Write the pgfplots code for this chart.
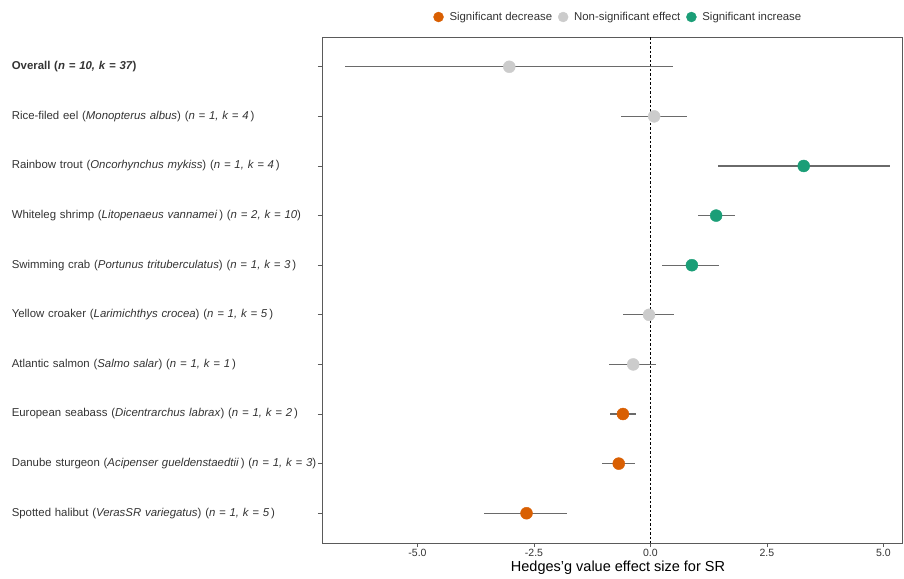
\documentclass[border=0pt]{standalone}
\usepackage{pgfplots}
\pgfplotsset{compat=1.18}
\usepackage{pgfplotstable}
\usepackage{fontspec}
\setmainfont{Liberation Sans}

\definecolor{dec}{HTML}{D95F02}
\definecolor{non}{HTML}{CCCCCC}
\definecolor{inc}{HTML}{1B9E77}
\definecolor{ci}{HTML}{6A6A6A}
\definecolor{frame}{HTML}{5A5A5A}
\definecolor{txt}{HTML}{333333}

% row: position from the top, g: Hedges' g, lo/hi: interval ends
\pgfplotstableread{
row g lo hi
1 -3.03 -6.55 0.48
2 0.08 -0.63 0.78
6 -0.03 -0.59 0.50
7 -0.37 -0.89 0.12
}\nonsig
\pgfplotstableread{
row g lo hi
3 3.29 1.45 5.14
4 1.41 1.02 1.81
5 0.89 0.25 1.48
}\sigup
\pgfplotstableread{
row g lo hi
8 -0.59 -0.87 -0.31
9 -0.68 -1.04 -0.33
10 -2.66 -3.57 -1.80
}\sigdown

\pgfplotsset{
  forest/.style={only marks, mark=*, mark size=6bp, forget plot,
    error bars/x dir=both, error bars/x explicit, error bars/error mark=none,
    error bars/error bar style={ci, line width=1.3bp}},
}

\begin{document}
\begin{tikzpicture}
\begin{axis}[
    name=ax,
    scale only axis,
    width=580bp, height=506bp,
    xmin=-7.05, xmax=5.40,
    ymin=0.4, ymax=10.6,
    y dir=reverse,
    axis line style={frame, line width=0.9bp},
    tick style={frame, line width=0.8bp},
    tick align=outside,
    xtick pos=bottom, ytick pos=left,
    major tick length=4bp,
    xtick={-5,-2.5,0,2.5,5},
    xticklabel style={font=\fontsize{10.5bp}{12bp}\selectfont, text=txt, yshift=1bp},
    /pgf/number format/.cd, fixed, fixed zerofill, precision=1, assume math mode=true,
    /pgfplots/.cd,
    ytick={1,...,10},
    yticklabels={
      {\textbf{Overall (\textit{n = 10, k = 37})}},
      {Rice-filed eel (\textit{Monopterus albus}) (\textit{n = 1, k = 4}\,)},
      {Rainbow trout (\textit{Oncorhynchus mykiss}) (\textit{n = 1, k = 4}\,)},
      {Whiteleg shrimp (\textit{Litopenaeus vannamei}\,) (\textit{n = 2, k = 10})},
      {Swimming crab (\textit{Portunus trituberculatus}) (\textit{n = 1, k = 3}\,)},
      {Yellow croaker (\textit{Larimichthys crocea}) (\textit{n = 1, k = 5}\,)},
      {Atlantic salmon (\textit{Salmo salar}) (\textit{n = 1, k = 1}\,)},
      {European seabass (\textit{Dicentrarchus labrax}) (\textit{n = 1, k = 2}\,)},
      {Danube sturgeon (\textit{Acipenser gueldenstaedtii}\,) (\textit{n = 1, k = 3})},
      {Spotted halibut (\textit{VerasSR variegatus}) (\textit{n = 1, k = 5}\,)}
    },
    yticklabel style={font=\fontsize{11.4bp}{13bp}\selectfont, text=txt,
      text width=306bp, align=left, anchor=east, inner sep=0pt, xshift=0bp},
    xlabel={Hedges'g value effect size for SR},
    xlabel style={font=\fontsize{14.5bp}{16bp}\selectfont, text=black, yshift=3bp, xshift=6bp},
    legend columns=3,
    legend style={draw=none, fill=none, at={(0.511,1.0395)}, anchor=center,
      font=\fontsize{11.4bp}{13bp}\selectfont, text=txt,
      /tikz/every even column/.append style={column sep=4bp}},
    legend cell align=left,
]
\addlegendimage{only marks, mark=*, mark size=5bp, dec}
\addlegendentry{\hspace{4bp}Significant decrease}
\addlegendimage{only marks, mark=*, mark size=5bp, non}
\addlegendentry{\hspace{4bp}Non-significant effect}
\addlegendimage{only marks, mark=*, mark size=5bp, inc}
\addlegendentry{\hspace{4bp}Significant increase}

\addplot[black, line width=0.7bp, dash pattern=on 2.5bp off 2bp, forget plot]
  coordinates {(0,0.4) (0,10.6)};

\addplot[forest, color=non] table[x=g, y=row,
  x error plus expr=\thisrow{hi}-\thisrow{g},
  x error minus expr=\thisrow{g}-\thisrow{lo}] {\nonsig};
\addplot[forest, color=inc] table[x=g, y=row,
  x error plus expr=\thisrow{hi}-\thisrow{g},
  x error minus expr=\thisrow{g}-\thisrow{lo}] {\sigup};
\addplot[forest, color=dec] table[x=g, y=row,
  x error plus expr=\thisrow{hi}-\thisrow{g},
  x error minus expr=\thisrow{g}-\thisrow{lo}] {\sigdown};
\end{axis}
\pgfresetboundingbox
\path ([shift={(-322bp,-35bp)}]ax.south west) rectangle ([shift={(2bp,37bp)}]ax.north east);
\end{tikzpicture}
\end{document}
